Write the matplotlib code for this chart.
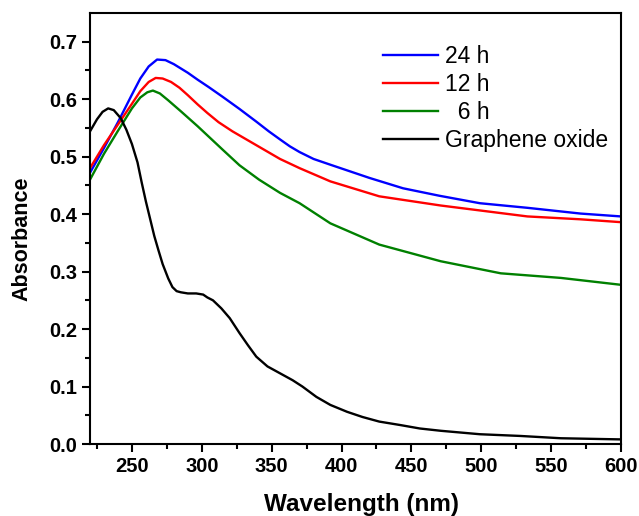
import numpy as np
import matplotlib.pyplot as plt

plt.rcParams['font.family'] = ['Liberation Sans', 'DejaVu Sans']

# values
wl_24 = [220, 230, 240, 250, 256, 262, 268, 274, 280, 290, 297, 305, 315, 327, 339, 348, 356, 363, 370, 380,
         392, 420, 444, 470, 499, 533, 571, 600]
abs_24 = [0.472, 0.515, 0.560, 0.608, 0.636, 0.657, 0.669, 0.668, 0.661, 0.646, 0.634, 0.621, 0.604, 0.583,
          0.561, 0.544, 0.530, 0.518, 0.508, 0.496, 0.486, 0.463, 0.445, 0.432, 0.419, 0.411, 0.401, 0.396]

wl_12 = [220, 230, 240, 250, 256, 262, 267, 272, 278, 284, 290, 297, 304, 312, 322, 339, 356, 370, 392, 427,
         471, 533, 571, 600]
abs_12 = [0.480, 0.520, 0.556, 0.592, 0.614, 0.630, 0.637, 0.636, 0.630, 0.620, 0.607, 0.591, 0.576, 0.560,
          0.544, 0.520, 0.496, 0.480, 0.457, 0.431, 0.415, 0.396, 0.391, 0.386]

wl_6 = [220, 230, 240, 250, 256, 261, 265, 270, 276, 285, 297, 315, 327, 341, 356, 370, 392, 427, 471,
        514, 557, 600]
abs_6 = [0.460, 0.505, 0.545, 0.584, 0.603, 0.612, 0.615, 0.610, 0.598, 0.579, 0.553, 0.512, 0.485,
         0.460, 0.437, 0.419, 0.384, 0.347, 0.318, 0.297, 0.289, 0.277]

wl_go = [220, 225, 229, 233, 237, 242, 246, 250, 254, 257, 260, 263, 266, 269, 272, 276, 279, 282, 285, 290,
         296, 301, 304, 308, 314, 320, 327, 333, 339, 347, 356, 365, 372, 382, 392, 404, 415, 427, 442, 456,
         471, 485, 499, 528, 557, 600]
abs_go = [0.544, 0.565, 0.578, 0.584, 0.581, 0.567, 0.547, 0.522, 0.490, 0.455, 0.422, 0.392, 0.362, 0.337,
          0.313, 0.288, 0.273, 0.266, 0.264, 0.262, 0.262, 0.260, 0.255, 0.250, 0.236, 0.219, 0.193, 0.172,
          0.152, 0.135, 0.123, 0.111, 0.100, 0.082, 0.068, 0.056, 0.047, 0.039, 0.033, 0.027, 0.023, 0.020,
          0.017, 0.014, 0.010, 0.008]

series = [(wl_24, abs_24, '#0000ff', '24 h'),
          (wl_12, abs_12, '#ff0000', '12 h'),
          (wl_6, abs_6, '#008000', '  6 h'),
          (wl_go, abs_go, '#000000', 'Graphene oxide')]

fig = plt.figure(figsize=(6.39, 5.16), dpi=100)
ax = fig.add_axes([90 / 639, 1 - 444 / 516, 531 / 639, 431 / 516])

for x, y, c, lab in series:
    ax.plot(x, y, color=c, linewidth=1.7, label=lab, solid_joinstyle='round')

ax.set_xlim(220, 600)
ax.set_ylim(0, 0.75)
ax.set_xticks(np.arange(250, 601, 50))
ax.set_xticks(np.arange(225, 601, 25), minor=True)
ax.set_yticks(np.arange(0, 0.71, 0.1))
ax.set_yticks(np.arange(0, 0.75, 0.05), minor=True)
ax.yaxis.set_major_formatter(plt.FormatStrFormatter('%.1f'))
ax.tick_params(which='major', direction='out', length=6, width=1.5, labelsize=14.5, pad=3)
ax.tick_params(which='minor', direction='out', length=3.5, width=1.5)
for lab in ax.get_xticklabels() + ax.get_yticklabels():
    lab.set_fontweight('bold')
for s in ax.spines.values():
    s.set_linewidth(1.5)

ax.set_xlabel('Wavelength (nm)', fontsize=17.5, fontweight='bold')
ax.set_ylabel('Absorbance', fontsize=15.5, fontweight='bold')
ax.xaxis.set_label_coords(0.512, -0.113)
ax.yaxis.set_label_coords(-0.108, 0.477)

ax.legend(loc='upper left', bbox_to_anchor=(383 / 639, 1 - 45 / 516), bbox_transform=fig.transFigure,
          frameon=False, fontsize=16.5, handlelength=2.4, handletextpad=0.3, labelspacing=0.22,
          borderpad=0, borderaxespad=0)

fig.savefig('out.png', dpi=100)
